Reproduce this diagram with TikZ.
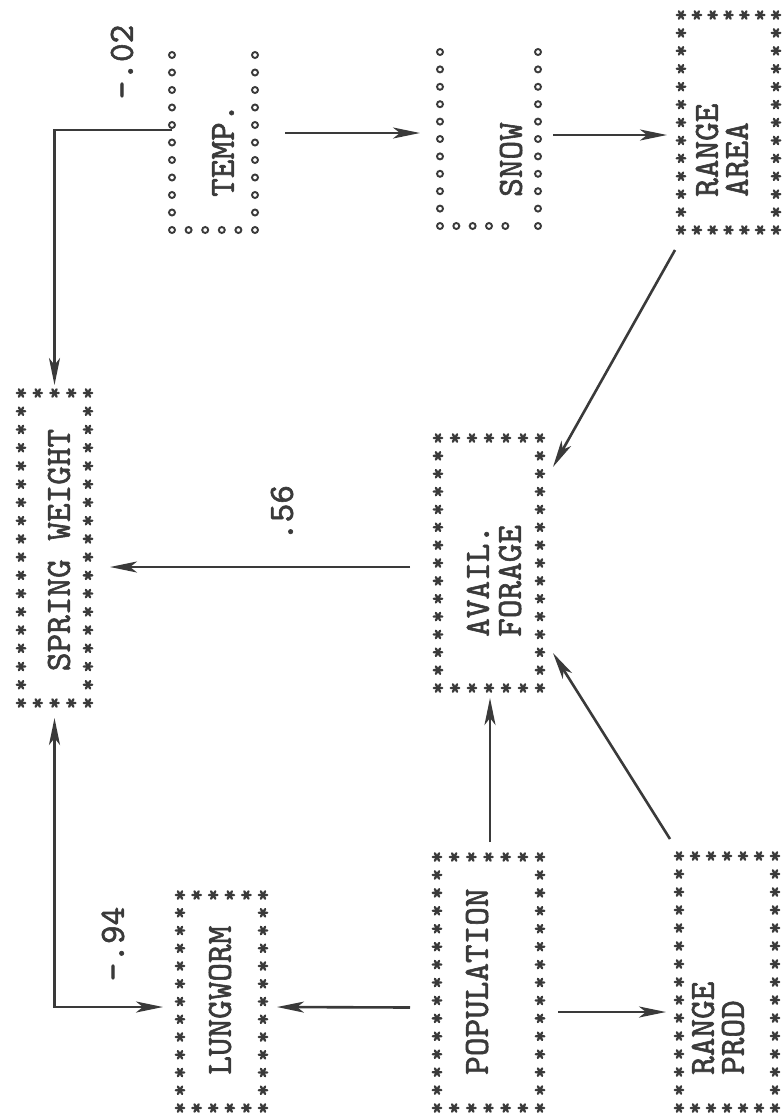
\documentclass[tikz,border=0pt]{standalone}
\usepackage{fontspec}
\newfontfamily\twfont{lmmono10-regular.otf}[FakeBold=1.6]
\usetikzlibrary{arrows.meta,calc}
\definecolor{ink}{HTML}{3A3A3A}
\tikzset{
  ast/.pic={\draw[ink,line width=2.3pt,line cap=round] (-4.3,0)--(4.3,0) (-2.15,-3.7)--(2.15,3.7) (-2.15,3.7)--(2.15,-3.7);},
  oo/.pic={\draw[ink,line width=1.9pt] (0,0) circle (3);},
  box/.style={draw=none,inner sep=0pt,outer sep=0pt},
  lbl/.style={font=\fontsize{35.5}{40}\selectfont\twfont,text=ink,inner sep=0pt,rotate=90},
  arr/.style={draw=ink,line width=2.6pt,-{Stealth[length=27pt,width=11pt,inset=7pt]}},
  darr/.style={draw=ink,line width=2.6pt,{Stealth[length=27pt,width=11pt,inset=7pt]}-{Stealth[length=27pt,width=11pt,inset=7pt]}}
}
% #1 node, #2 pic, #3 nx, #4 ny, #5 top row (1/0), #6 skipped bottom index
\newcommand\frameit[6]{%
  \foreach \i in {0,...,#3}{%
    \ifnum\i=#6\relax\else\pic at ($(#1.south west)!\i/#3!(#1.south east)$) {#2};\fi
    \ifnum#5=1\relax\pic at ($(#1.north west)!\i/#3!(#1.north east)$) {#2};\fi
  }%
  \pgfmathtruncatemacro\nyy{#4-1}%
  \foreach \j in {1,...,\nyy}{%
    \pic at ($(#1.north west)!\j/#4!(#1.south west)$) {#2};
    \pic at ($(#1.north east)!\j/#4!(#1.south east)$) {#2};
  }%
  \ifnum#5=0\relax
    \pic at (#1.north west) {#2};
    \pic at (#1.north east) {#2};
  \fi
}
\begin{document}
\begin{tikzpicture}[x=1pt,y=-1pt]
\fill[white] (0,0) rectangle (783,1120);
\useasboundingbox (0,0) rectangle (783,1120);

% boxes
\node[box,minimum width=83pt,minimum height=175pt] (temp) at (213.5,142.5) {};
\node[box,minimum width=98pt,minimum height=174pt] (snow) at (489,139) {};
\node[box,minimum width=95pt,minimum height=215pt] (ra) at (728.5,122.5) {};
\node[box,minimum width=67pt,minimum height=310pt] (sw) at (54.5,548) {};
\node[box,minimum width=102pt,minimum height=250pt] (af) at (489,563) {};
\node[box,minimum width=83pt,minimum height=213pt] (lw) at (221.5,1001.5) {};
\node[box,minimum width=103pt,minimum height=251pt] (pop) at (488.5,982.5) {};
\node[box,minimum width=96pt,minimum height=252pt] (rp) at (727,982) {};

\frameit{temp}{oo}{5}{10}{0}{-1}
\frameit{snow}{oo}{6}{10}{0}{5}
\frameit{ra}{ast}{6}{12}{1}{-1}
\frameit{sw}{ast}{4}{17}{1}{-1}
\frameit{af}{ast}{6}{14}{1}{-1}
\frameit{lw}{ast}{5}{12}{1}{-1}
\frameit{pop}{ast}{6}{14}{1}{-1}
\frameit{rp}{ast}{6}{14}{1}{-1}

% texts
\node[lbl,anchor=west] (tTemp) at (223,197) {TEMP.};
\node[lbl,anchor=west] (tSnow) at (511,197) {SNOW};
\node[lbl,anchor=west] (tRa1) at (707,197) {RANGE};
\node[lbl,anchor=west] (tRa2) at (737,197) {AREA};
\node[lbl] (tSw) at (59,550) {SPRING WEIGHT};
\node[lbl,anchor=west] (tAf1) at (478,637) {AVAIL.};
\node[lbl,anchor=west] (tAf2) at (510,637) {FORAGE};
\node[lbl,anchor=west] (tLw) at (220,1075) {LUNGWORM};
\node[lbl,anchor=west] (tPop) at (477,1075) {POPULATION};
\node[lbl,anchor=west] (tRp1) at (703,1075) {RANGE};
\node[lbl,anchor=west] (tRp2) at (733,1075) {PROD};

% coefficients
\node[lbl] (c02) at (122,62) {-.02};
\node[lbl] (c56) at (282,513) {.56};
\node[lbl] (c94) at (113,944) {-.94};

% connectors
\draw[arr] ([shift={(0,-12.5)}]temp.west) -| ([shift={(0,-8)}]sw.north);
\draw[arr] ([shift={(30,-9.5)}]temp.east) -- ([shift={(-20,-6)}]snow.west);
\draw[arr] ([shift={(15,-4)}]snow.east) -- ([shift={(-14,12.5)}]ra.west);
\draw[arr] ([shift={(-6,20)}]ra.south west) -- ([shift={(13,29)}]af.north east);
\draw[arr] ([shift={(-28,4)}]af.west) -- ([shift={(22,19)}]sw.east);
\draw[arr] ([shift={(1.5,-15)}]pop.north) -- ([shift={(1,10)}]af.south);
\draw[arr] ([shift={(-9,-17)}]rp.north west) -- ([shift={(13,-35)}]af.south east);
\draw[arr] ([shift={(-27,25)}]pop.west) -- ([shift={(14,5.5)}]lw.east);
\draw[arr] ([shift={(18,29.5)}]pop.east) -- ([shift={(-13,30)}]rp.west);
\draw[darr] ([shift={(-17,5.5)}]lw.west) -| ([shift={(0,15)}]sw.south);
\end{tikzpicture}
\end{document}
